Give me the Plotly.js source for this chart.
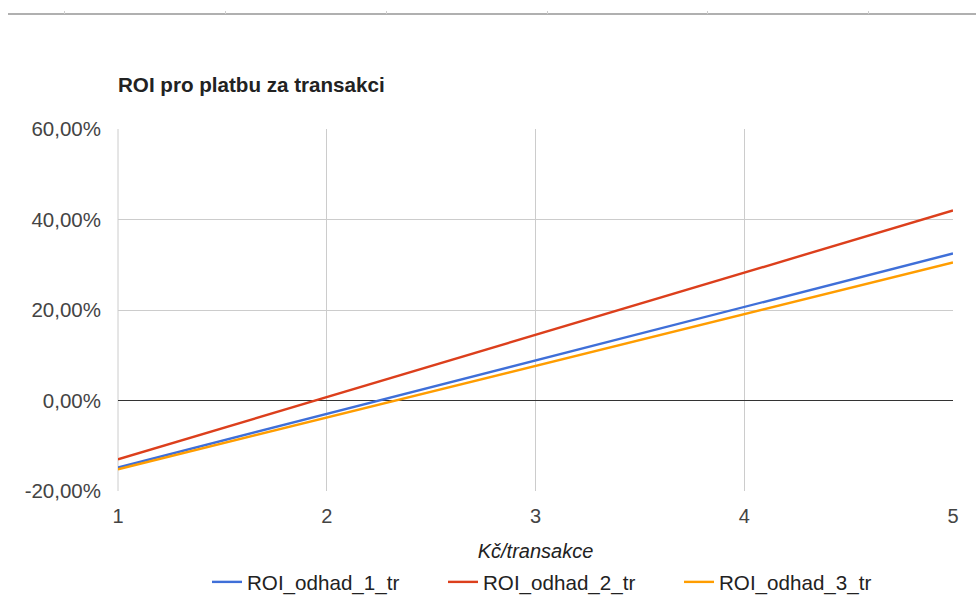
<!DOCTYPE html>
<html>
<head>
<meta charset="utf-8">
<script src="https://cdn.plot.ly/plotly-3.0.1.min.js"></script>
<style>
  html, body { margin: 0; padding: 0; background: #fff; }
  #wrap { position: relative; width: 976px; height: 601px; }
  #chart { width: 976px; height: 601px; }
  #topbar { position: absolute; left: 8px; top: 13px; width: 968px; height: 2px; background: #b0b0b0; }
  .tk { position: absolute; top: 11px; width: 1px; height: 3px; background: #cfcfcf; }
</style>
</head>
<body>
<div id="wrap">
  <div id="chart"></div>
  <div id="topbar"></div>
</div>
<script>
// Data
const xValues = [1, 2, 3, 4, 5];
const seriesNames = ["ROI_odhad_1_tr", "ROI_odhad_2_tr", "ROI_odhad_3_tr"];
const roi1 = [-0.148, -0.030, 0.088, 0.206, 0.325];
const roi2 = [-0.130, 0.0075, 0.145, 0.2825, 0.420];
const roi3 = [-0.152, -0.038, 0.0765, 0.191, 0.305];
const yTickVals = [-0.2, 0, 0.2, 0.4, 0.6];
const yTickLabels = ["-20,00%", "0,00%", "20,00%", "40,00%", "60,00%"];
const seriesColors = ["#3f6fd8", "#dc3f1c", "#ff9d00"];
const chartTitle = "ROI pro platbu za transakci";
const xTitle = "Kč/transakce";

// decorative top bar tick marks
[64, 225, 386, 547, 707, 868].forEach(function (px) {
  const d = document.createElement('div');
  d.className = 'tk';
  d.style.left = px + 'px';
  document.getElementById('wrap').appendChild(d);
});

const ys = [roi1, roi2, roi3];
const traces = ys.map(function (y, i) {
  return {
    x: xValues, y: y, type: 'scatter', mode: 'lines',
    name: seriesNames[i],
    line: { color: seriesColors[i], width: 2.4 },
    hoverinfo: 'x+y+name'
  };
});

const font = "'Liberation Sans', Arial, sans-serif";
const layout = {
  width: 976, height: 601,
  margin: { l: 118, r: 23, t: 129, b: 110 },
  paper_bgcolor: '#fff', plot_bgcolor: '#fff',
  separators: ', ',
  font: { family: font, size: 20, color: '#444' },
  title: {
    text: '<b>' + chartTitle + '</b>',
    font: { family: font, size: 20.6, color: '#222' },
    x: 118 / 976, xref: 'container', xanchor: 'left',
    y: 1 - 85 / 601, yref: 'container', yanchor: 'middle'
  },
  xaxis: {
    range: [1, 5], dtick: 1, tick0: 1,
    showgrid: true, gridcolor: '#cccccc', gridwidth: 1,
    zeroline: false, showline: false,
    ticks: '', ticklabelstandoff: 11,
    tickfont: { size: 20, color: '#444' },
    title: { text: '<i>' + xTitle + '</i>', font: { size: 20, color: '#222' }, standoff: 17 },
    automargin: false
  },
  yaxis: {
    range: [-0.2, 0.6],
    tickmode: 'array', tickvals: yTickVals, ticktext: yTickLabels,
    showgrid: true, gridcolor: '#cccccc', gridwidth: 1,
    zeroline: true, zerolinecolor: '#333333', zerolinewidth: 1,
    showline: false, ticks: '', ticklabelstandoff: 16,
    tickfont: { size: 20.5, color: '#444' },
    automargin: false
  },
  shapes: [
    { type: 'line', xref: 'paper', yref: 'paper', x0: 0, x1: 0, y0: 0, y1: 1, line: { color: '#cccccc', width: 1 }, layer: 'below' }
  ],
  showlegend: true,
  legend: {
    orientation: 'h', x: 207 / 976, xref: 'container', xanchor: 'left',
    y: 1 - 582 / 601, yref: 'container', yanchor: 'middle',
    entrywidth: 191, entrywidthmode: 'pixels',
    font: { size: 20.6, color: '#222' },
    bgcolor: 'rgba(0,0,0,0)'
  }
};

Plotly.newPlot('chart', traces, layout, { displayModeBar: false });
</script>
</body>
</html>
